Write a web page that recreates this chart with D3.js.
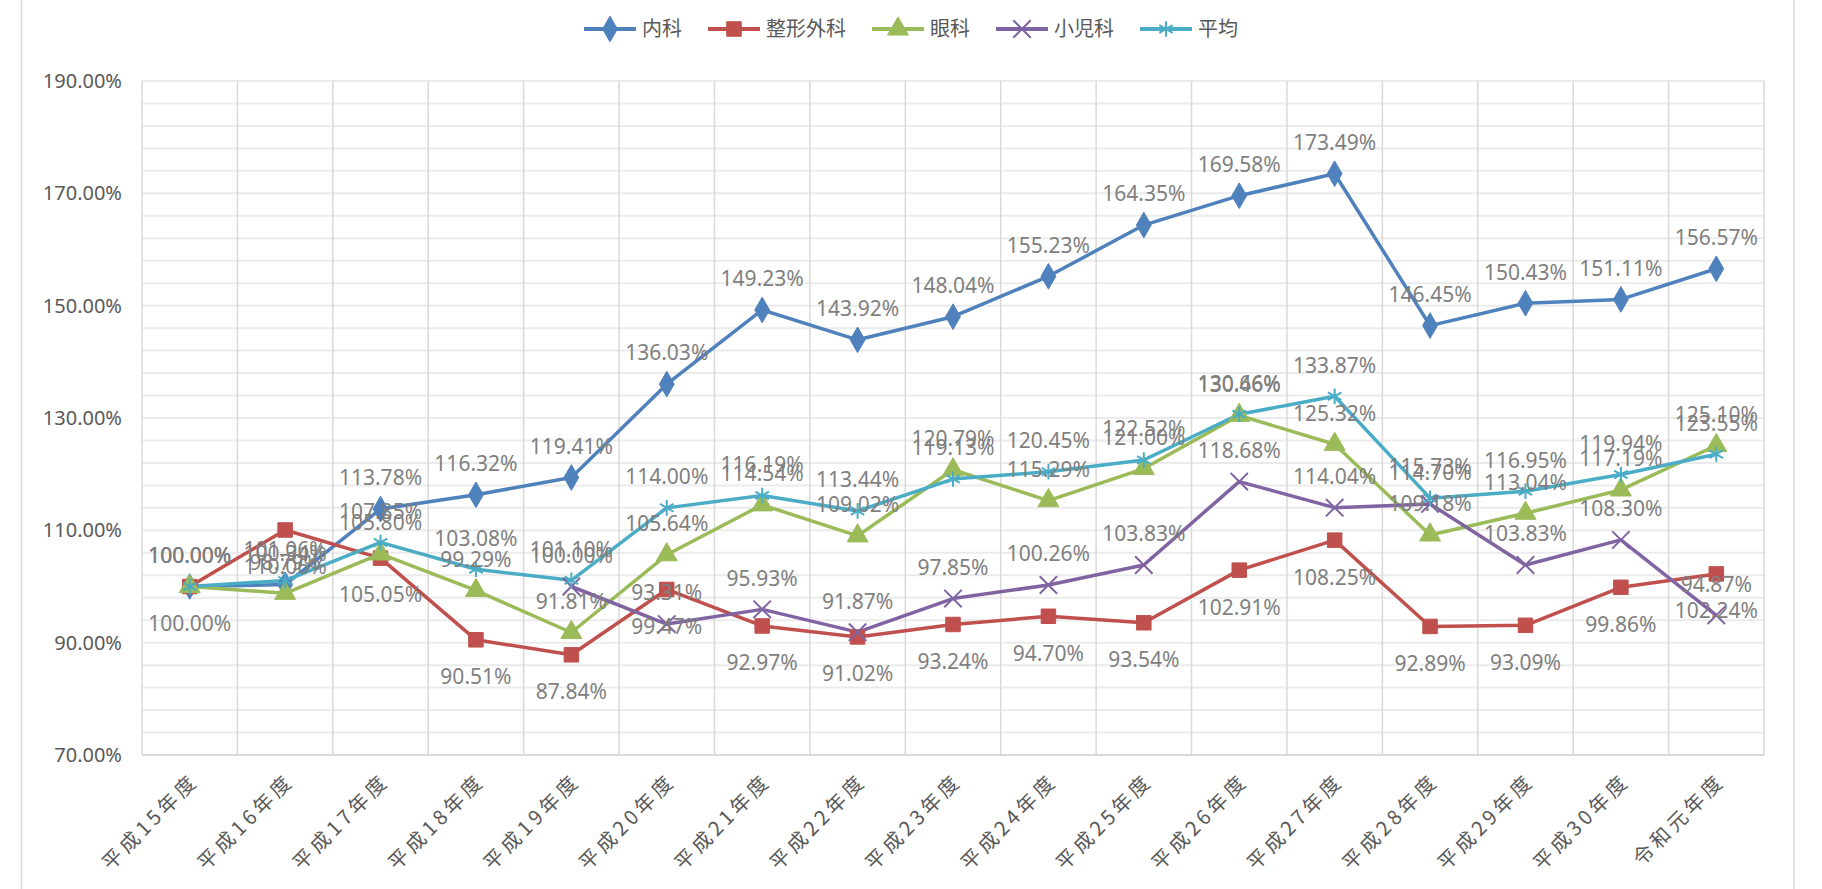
<!DOCTYPE html>
<html lang="ja">
<head>
<meta charset="utf-8">
<title>診療科別 推移</title>
<script src="https://cdn.jsdelivr.net/npm/d3@7"></script>
<style>
  body { margin: 0; background: #fff; }
  text { font-family: "Noto Sans CJK JP", "Noto Sans", sans-serif; }
</style>
</head>
<body>
<script>
// data
var years = ["平成15年度","平成16年度","平成17年度","平成18年度","平成19年度","平成20年度",
  "平成21年度","平成22年度","平成23年度","平成24年度","平成25年度","平成26年度",
  "平成27年度","平成28年度","平成29年度","平成30年度","令和元年度"];
var naika   = [100.00,100.34,113.78,116.32,119.41,136.03,149.23,143.92,148.04,155.23,164.35,169.58,173.49,146.45,150.43,151.11,156.57];
var seikei  = [100.00,110.06,105.05,90.51,87.84,99.47,92.97,91.02,93.24,94.70,93.54,102.91,108.25,92.89,93.09,99.86,102.24];
var ganka   = [100.00,98.79,105.80,99.29,91.81,105.64,114.54,109.02,120.79,115.29,121.00,130.46,125.32,109.18,113.04,117.19,125.10];
var shoni   = [null,null,null,null,100.00,93.31,95.93,91.87,97.85,100.26,103.83,118.68,114.04,114.70,103.83,108.30,94.87];
var heikin  = [100.00,101.06,107.85,103.08,101.10,114.00,116.19,113.44,119.13,120.45,122.52,130.66,133.87,115.73,116.95,119.94,123.55];
var seriesNames = ["内科","整形外科","眼科","小児科","平均"];
var yTicks = [70,90,110,130,150,170,190];

var W = 1822, H = 889;
var m = {left: 142, right: 1764, top: 81, bottom: 755};

var series = [
  {name: seriesNames[0], values: naika,  color: "#4F81BD", sym: d3.symbolDiamond,  size: 190, stroke: false, pos: "above"},
  {name: seriesNames[1], values: seikei, color: "#C0504D", sym: d3.symbolSquare,   size: 210, stroke: false, pos: "below"},
  {name: seriesNames[2], values: ganka,  color: "#9BBB59", sym: d3.symbolTriangle, size: 190, stroke: false, pos: "above"},
  {name: seriesNames[3], values: shoni,  color: "#8064A2", sym: d3.symbolX,        size: 200, stroke: true,  pos: "above"},
  {name: seriesNames[4], values: heikin, color: "#4BACC6", sym: d3.symbolAsterisk, size: 170, stroke: true,  pos: "above"}
];

var svg = d3.select("body").append("svg").attr("width", W).attr("height", H);

// outer frame lines
svg.append("line").attr("x1", 21.5).attr("x2", 21.5).attr("y1", 0).attr("y2", H)
  .attr("stroke", "#d9d9d9").attr("stroke-width", 1.5);
svg.append("line").attr("x1", 1794).attr("x2", 1794).attr("y1", 0).attr("y2", H)
  .attr("stroke", "#d9d9d9").attr("stroke-width", 1.5);

var x = d3.scaleBand().domain(years).range([m.left, m.right]).padding(0);
var y = d3.scaleLinear().domain([70, 190]).range([m.bottom, m.top]);
var cx = function(i){ return x(years[i]) + x.bandwidth()/2; };

// horizontal grid every 4%
svg.append("g").selectAll("line").data(d3.range(70, 190.1, 4)).enter().append("line")
  .attr("x1", m.left).attr("x2", m.right)
  .attr("y1", function(d){ return y(d); }).attr("y2", function(d){ return y(d); })
  .attr("stroke", "#ebebeb").attr("stroke-width", 2);

// vertical grid between categories
var bounds = years.map(function(d){ return x(d); }).concat([m.right]);
svg.append("g").selectAll("line").data(bounds).enter().append("line")
  .attr("x1", function(d){ return d; }).attr("x2", function(d){ return d; })
  .attr("y1", m.top).attr("y2", m.bottom)
  .attr("stroke", "#d9d9d9").attr("stroke-width", 1.5);

svg.append("line").attr("x1", m.left).attr("x2", m.right).attr("y1", m.bottom).attr("y2", m.bottom)
  .attr("stroke", "#d9d9d9").attr("stroke-width", 2);

// y axis labels
var yAxis = d3.axisLeft(y).tickValues(yTicks).tickSize(0).tickPadding(20)
  .tickFormat(function(d){ return d3.format(".2f")(d) + "%"; });
var gy = svg.append("g").attr("transform", "translate(" + m.left + ",0)").call(yAxis);
gy.select(".domain").remove();
gy.selectAll("text").attr("fill", "#595959").style("font-size", "20px")
  .style("font-family", "'Noto Sans', sans-serif");

// x axis labels, rotated
var xAxis = d3.axisBottom(x).tickSize(0).tickPadding(0);
var gx = svg.append("g").attr("transform", "translate(0," + m.bottom + ")").call(xAxis);
gx.select(".domain").remove();
gx.selectAll("text")
  .attr("fill", "#595959").style("font-size", "20px").style("letter-spacing", "4px")
  .attr("text-anchor", "end").attr("y", 0).attr("dy", "0")
  .attr("transform", "translate(10,27) rotate(-45)");

// lines
var line = d3.line()
  .defined(function(d){ return d != null; })
  .x(function(d, i){ return cx(i); })
  .y(function(d){ return y(d); });

series.forEach(function(s){
  svg.append("path").datum(s.values)
    .attr("d", line).attr("fill", "none")
    .attr("stroke", s.color).attr("stroke-width", 3.5).attr("stroke-linejoin", "round");
});

series.forEach(function(s){
  var pts = s.values.map(function(v, i){ return {v: v, i: i}; }).filter(function(d){ return d.v != null; });
  svg.append("g").selectAll("path").data(pts).enter().append("path")
    .attr("transform", function(d){ return "translate(" + cx(d.i) + "," + y(d.v) + ")"; })
    .attr("d", d3.symbol().type(s.sym).size(s.size))
    .attr("fill", s.stroke ? "none" : s.color)
    .attr("stroke", s.color).attr("stroke-width", s.stroke ? 2 : 1);
});

// data labels
series.forEach(function(s){
  var pts = s.values.map(function(v, i){ return {v: v, i: i}; }).filter(function(d){ return d.v != null; });
  svg.append("g").selectAll("text").data(pts).enter().append("text")
    .attr("x", function(d){ return cx(d.i); })
    .attr("y", function(d){ return y(d.v) + (s.pos == "above" ? -31 : 37); })
    .attr("dy", "0.35em")
    .attr("text-anchor", "middle")
    .attr("fill", "#7f7f7f")
    .style("font-size", "21px")
    .style("font-family", "'Noto Sans', sans-serif")
    .text(function(d){ return d3.format(".2f")(d.v) + "%"; });
});

// legend
var legend = svg.append("g");
var lx = 0;
series.forEach(function(s){
  var g = legend.append("g").attr("transform", "translate(" + lx + ",0)");
  g.append("line").attr("x1", 0).attr("x2", 52).attr("y1", 0).attr("y2", 0)
    .attr("stroke", s.color).attr("stroke-width", 4);
  g.append("path").attr("transform", "translate(26,0)")
    .attr("d", d3.symbol().type(s.sym).size(s.size))
    .attr("fill", s.stroke ? "none" : s.color)
    .attr("stroke", s.color).attr("stroke-width", s.stroke ? 2 : 1);
  var t = g.append("text").attr("x", 58).attr("dy", "0.35em")
    .attr("fill", "#595959").style("font-size", "20px").text(s.name);
  lx += 58 + t.node().getComputedTextLength() + 26;
});
lx -= 26;
legend.attr("transform", "translate(" + (W/2 - lx/2) + ",29)");
</script>
</body>
</html>
